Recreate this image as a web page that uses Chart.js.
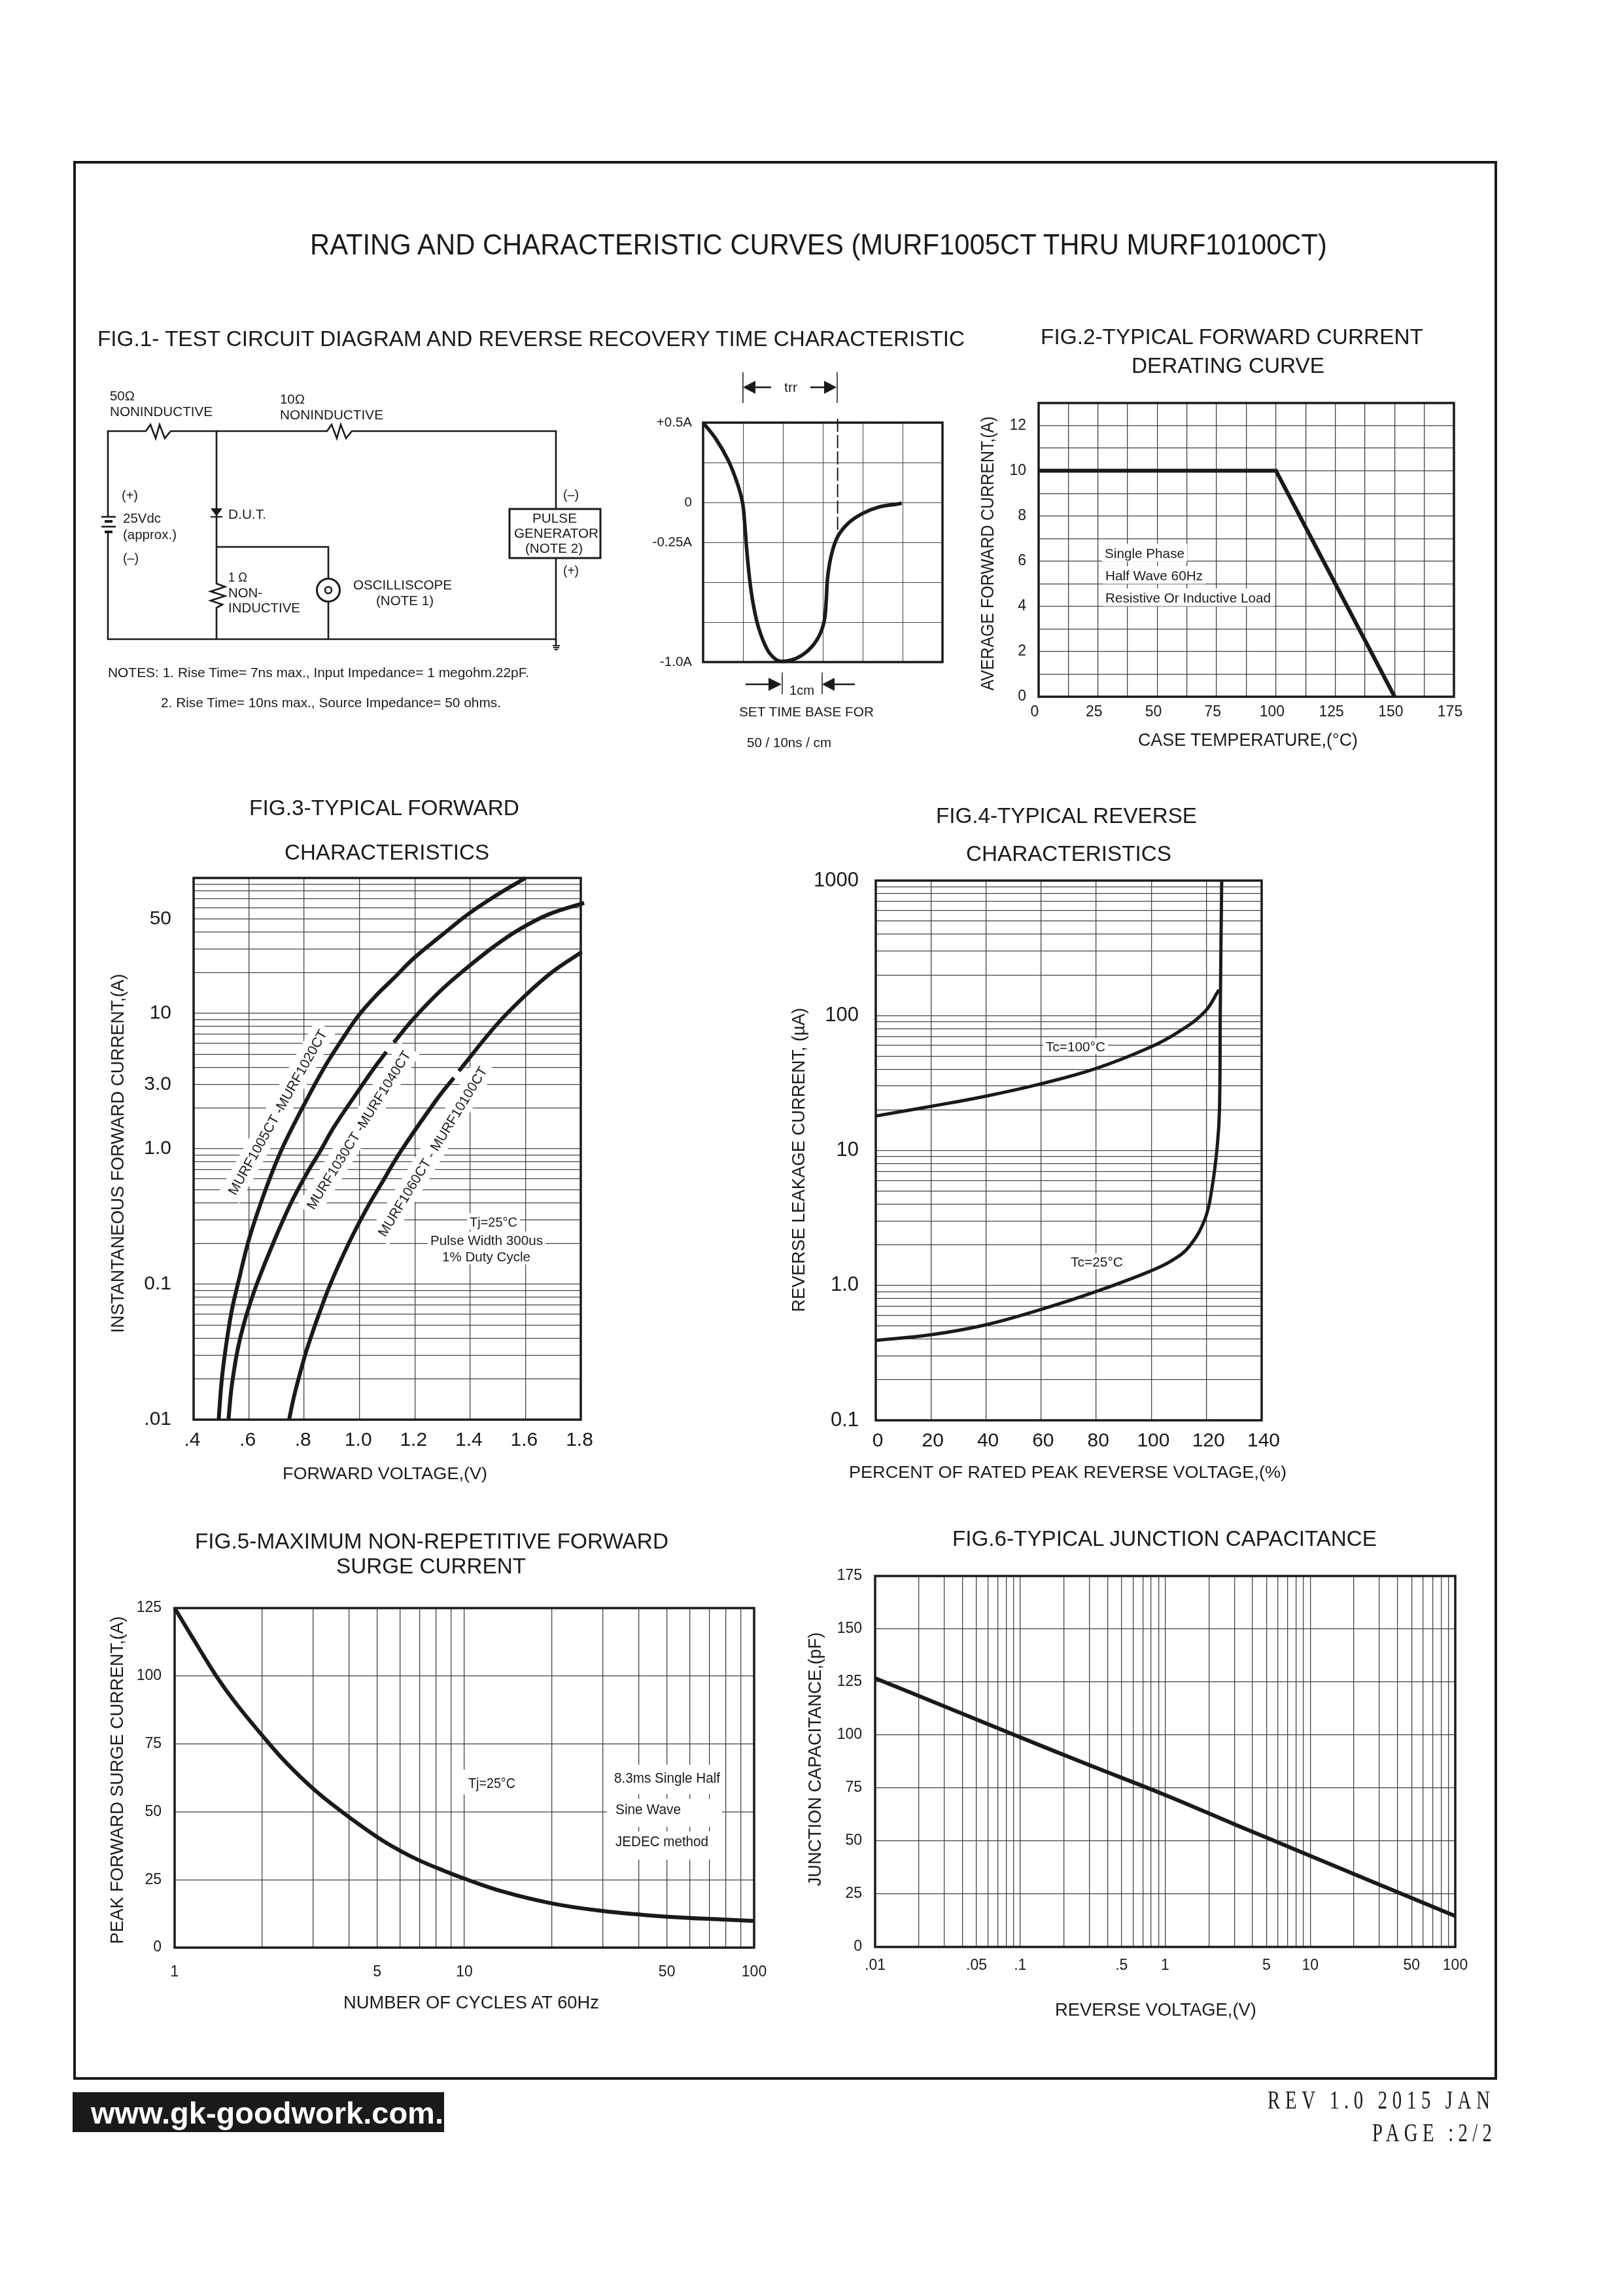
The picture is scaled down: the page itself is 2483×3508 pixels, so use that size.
<!DOCTYPE html>
<html>
<head>
<meta charset="utf-8">
<title>MURF1005CT curves</title>
<script src="https://cdn.jsdelivr.net/npm/chart.js@4/dist/chart.umd.min.js"></script>
<style>
html, body { margin: 0; padding: 0; background: #fff; }
#page { position: relative; width: 2483px; height: 3508px; overflow: hidden; }
#page canvas { position: absolute; }
#overlay { position: absolute; left: 0; top: 0; }
#overlay text { font-family: "Liberation Sans", Arial, sans-serif; fill: #1a1a1a; dominant-baseline: central; text-anchor: middle; }
</style>
</head>
<body>
<div id="page">
<svg id="overlay" width="2483" height="3508" xmlns="http://www.w3.org/2000/svg"></svg>
</div>
<script>
/*chart values*/

// fig.1 reverse recovery (x in divisions)
const fig1Time = [0, 0.328, 0.628, 0.847, 0.984, 1.038, 1.093, 1.175, 1.257, 1.393, 1.612, 1.831, 1.995, 2.322, 2.65, 2.896, 3.033, 3.087, 3.115, 3.197, 3.361, 3.634, 3.989, 4.399, 4.836, 4.98];
const fig1Current = [0.5, 0.395, 0.265, 0.128, 0.005, -0.117, -0.295, -0.5, -0.637, -0.787, -0.923, -0.985, -0.996, -0.978, -0.923, -0.842, -0.746, -0.609, -0.486, -0.35, -0.22, -0.131, -0.07, -0.029, -0.011, -0.005];
const fig1MarkerTime = [3.372, 3.372];
const fig1MarkerCurrent = [0.525, -0.2];
const fig1XTicks = [0, 1, 2, 3, 4, 5, 6];
const fig1YTicks = [-1, -0.75, -0.5, -0.25, 0, 0.25, 0.5];
const fig1YLabels = { '0.5': '+0.5A', '0': '0', '-0.25': '-0.25A', '-1': '-1.0A' };

// fig.2 derating
const fig2Temp = [0, 100, 150];
const fig2Amps = [10, 10, 0];
const fig2XTicks = [0, 12.5, 25, 37.5, 50, 62.5, 75, 87.5, 100, 112.5, 125, 137.5, 150, 162.5, 175];
const fig2YTicks = [0, 1, 2, 3, 4, 5, 6, 7, 8, 9, 10, 11, 12, 13];
const fig2XLabels = { 0: '0', 25: '25', 50: '50', 75: '75', 100: '100', 125: '125', 150: '150', 175: '175' };
const fig2YLabels = { 0: '0', 2: '2', 4: '4', 6: '6', 8: '8', 10: '10', 12: '12' };

// fig.3 forward characteristics, the nulls are the small breaks beside the part numbers
const fig3VoltsA = [0.4906, 0.5009, 0.5119, 0.5245, 0.5403, 0.5616, 0.601, 0.6562, 0.7153, 0.7937, 0.8706, 0.943, 0.9973, 1.0606, 1.124, 1.196, 1.296, 1.395, 1.495, 1.6];
const fig3AmpsA = [0.01, 0.0188, 0.0293, 0.0441, 0.0675, 0.1033, 0.2173, 0.473, 0.957, 2.01, 3.92, 6.7, 9.7, 13.6, 18.2, 25.5, 37.6, 54.5, 74.6, 100];
const fig3VoltsB = [0.5261, 0.5356, 0.5466, 0.5608, 0.5797, 0.6034, 0.6325, 0.6877, 0.7508, 0.8099, 0.8572, 0.9068, 0.9882, 1.0516, 1.097, 1.11, 1.124, 1.196, 1.296, 1.386, 1.486, 1.576, 1.685, 1.812];
const fig3AmpsB = [0.01, 0.0162, 0.0234, 0.034, 0.0492, 0.0713, 0.1054, 0.201, 0.393, 0.661, 0.957, 1.44, 2.55, 3.92, 5.2, null, 6.1, 9.18, 14.9, 21.5, 31.2, 41.5, 54, 65.5];
const fig3VoltsC = [0.7453, 0.761, 0.78, 0.8052, 0.8225, 0.8493, 0.895, 0.9612, 1.0227, 1.0779, 1.1489, 1.278, 1.341, 1.35, 1.359, 1.495, 1.595, 1.694, 1.803];
const fig3AmpsC = [0.01, 0.01422, 0.0202, 0.031, 0.0397, 0.0571, 0.1007, 0.201, 0.352, 0.548, 0.957, 2.3, 3.35, null, 3.75, 8.22, 13.3, 20, 28.4];
const fig3XTicks = [0.4, 0.6, 0.8, 1, 1.2, 1.4, 1.6, 1.8];
const fig3XLabels = { '0.4': '.4', '0.6': '.6', '0.8': '.8', '1': '1.0', '1.2': '1.2', '1.4': '1.4', '1.6': '1.6', '1.8': '1.8' };
const fig3YTicks = [0.01, 0.02, 0.03, 0.04, 0.05, 0.06, 0.07, 0.08, 0.09, 0.1, 0.2, 0.3, 0.4, 0.5, 0.6, 0.7, 0.8, 0.9, 1, 2, 3, 4, 5, 6, 7, 8, 9, 10, 20, 30, 40, 50, 60, 70, 80, 90, 100];
const fig3YLabels = { '0.01': '.01', '0.1': '0.1', '1': '1.0', '3': '3.0', '10': '10', '50': '50' };

// fig.4 reverse characteristics
const fig4Pct100 = [0, 19.9, 39.7, 59.7, 79.6, 99.4, 110, 119.4, 124.5];
const fig4Leak100 = [18, 21.2, 25.2, 31.1, 40.3, 58, 76, 107, 155];
const fig4Pct25 = [0, 19.9, 39.7, 59.7, 79.6, 99.4, 107.5, 113.6, 119.4, 122, 123.9, 124.7, 125, 125.5];
const fig4Leak25 = [0.391, 0.43, 0.509, 0.661, 0.895, 1.27, 1.53, 1.93, 3.09, 5.3, 10.8, 20.2, 113, 1000];
const fig4XTicks = [0, 20, 40, 60, 80, 100, 120, 140];
const fig4YTicks = [0.1, 0.2, 0.3, 0.4, 0.5, 0.6, 0.7, 0.8, 0.9, 1, 2, 3, 4, 5, 6, 7, 8, 9, 10, 20, 30, 40, 50, 60, 70, 80, 90, 100, 200, 300, 400, 500, 600, 700, 800, 900, 1000];
const fig4YLabels = { '0.1': '0.1', '1': '1.0', '10': '10', '100': '100', '1000': '1000' };

// fig.5 surge current
const fig5Cycles = [1, 1.147, 1.392, 1.62, 2.01, 2.415, 3.05, 3.79, 5.02, 5.97, 7.02, 8.55, 10, 13.6, 20, 30, 50, 80, 100];
const fig5Amps = [125, 114.5, 100, 90.2, 78, 68.3, 57.9, 49.9, 40.6, 35.8, 32, 28.2, 25.4, 20.6, 16.3, 13.5, 11.4, 10.3, 9.8];
const fig5XTicks = [1, 2, 3, 4, 5, 6, 7, 8, 9, 10, 20, 30, 40, 50, 60, 70, 80, 90, 100];
const fig5XLabels = { 1: '1', 5: '5', 10: '10', 50: '50', 100: '100' };
const fig5YTicks = [0, 25, 50, 75, 100, 125];

// fig.6 junction capacitance
const fig6Volts = [0.01, 0.0306, 0.1, 0.3, 1, 3, 10, 30, 100];
const fig6Cap = [126.8, 113.3, 98.9, 85.8, 71.7, 57.9, 43, 29.4, 14.6];
const fig6XTicks = [0.01, 0.02, 0.03, 0.04, 0.05, 0.06, 0.07, 0.08, 0.09, 0.1, 0.2, 0.3, 0.4, 0.5, 0.6, 0.7, 0.8, 0.9, 1, 2, 3, 4, 5, 6, 7, 8, 9, 10, 20, 30, 40, 50, 60, 70, 80, 90, 100];
const fig6XLabels = { '0.01': '.01', '0.05': '.05', '0.1': '.1', '0.5': '.5', '1': '1', '5': '5', '10': '10', '50': '50', '100': '100' };
const fig6YTicks = [0, 25, 50, 75, 100, 125, 150, 175];

/*helpers*/

const INK = '#1a1a1a';
const GRID = '#444';
const MARGIN = 110;
const page = document.getElementById('page');
const overlay = document.getElementById('overlay');
const NS = 'http://www.w3.org/2000/svg';

function points(xs, ys) {
    return xs.map(function(x, i) { return { x: x, y: ys[i] }; });
}

function curve(xs, ys, width) {
    return {
        data: points(xs, ys),
        borderColor: INK,
        borderWidth: width,
        pointRadius: 0,
        tension: 0.4,
        borderCapStyle: 'butt',
        clip: false,
    };
}

// same, with straight pieces between the points
function straight(xs, ys, width) {
    return Object.assign(curve(xs, ys, width), { tension: 0 });
}

function axisOptions(a, horizontal) {
    return {
        type: a.type || 'linear',
        min: a.min,
        max: a.max,
        border: { display: false },
        grid: { color: GRID, lineWidth: a.gridWidth || 1.3, drawTicks: false },
        ticks: {
            autoSkip: false,
            maxRotation: 0,
            minRotation: 0,
            color: INK,
            padding: a.pad,
            labelOffset: a.offset || 0,
            font: { family: '"Liberation Sans", Arial, sans-serif', size: a.size },
            callback: function(value) {
                if (!a.labels) return String(value);
                const text = a.labels[String(value)];
                return text === undefined ? '' : text;
            },
        },
        afterBuildTicks: function(scale) {
            scale.ticks = a.ticks.map(function(v) { return { value: v }; });
        },
        afterFit: function(scale) {
            // keep the plot box where the page wants it
            if (horizontal) scale.height = MARGIN; else scale.width = MARGIN;
            scale.paddingLeft = 0; scale.paddingRight = 0;
            scale.paddingTop = 0; scale.paddingBottom = 0;
        },
    };
}

function addChart(box, datasets, xAxis, yAxis, masks, frameWidth) {
    const canvas = document.createElement('canvas');
    const left = box.l - MARGIN, top = box.t - MARGIN;
    canvas.width = box.r - box.l + MARGIN * 2;
    canvas.height = box.b - box.t + MARGIN * 2;
    canvas.style.left = left + 'px';
    canvas.style.top = top + 'px';
    page.insertBefore(canvas, overlay);

    const paper = {
        id: 'paper',
        // white patches behind the notes, the grid stops around them
        beforeDatasetsDraw: function(chart) {
            const ctx = chart.ctx;
            (masks || []).forEach(function(m) {
                ctx.save();
                ctx.translate(m.cx - left, m.cy - top);
                ctx.rotate(-(m.angle || 0) * Math.PI / 180);
                ctx.fillStyle = '#fff';
                ctx.fillRect(-m.w / 2, -m.h / 2, m.w, m.h);
                ctx.restore();
            });
        },
        afterDatasetsDraw: function(chart) {
            const a = chart.chartArea, ctx = chart.ctx;
            ctx.save();
            ctx.strokeStyle = INK;
            ctx.lineWidth = frameWidth || 3.5;
            ctx.strokeRect(a.left, a.top, a.right - a.left, a.bottom - a.top);
            ctx.restore();
        },
    };

    return new Chart(canvas.getContext('2d'), {
        type: 'line',
        data: { datasets: datasets },
        options: {
            responsive: false,
            animation: false,
            events: [],
            devicePixelRatio: 1,
            layout: { padding: { left: 0, top: MARGIN, right: MARGIN, bottom: 0 } },
            plugins: { legend: { display: false }, title: { display: false }, tooltip: { enabled: false } },
            scales: { x: axisOptions(xAxis, true), y: axisOptions(yAxis, false) },
        },
        plugins: [paper],
    });
}

function svg(tag, attrs) {
    const el = document.createElementNS(NS, tag);
    for (const k in attrs) el.setAttribute(k, attrs[k]);
    overlay.appendChild(el);
    return el;
}

// text squeezed to the width it has in the reference
function text(str, x0, x1, y, size, weight, fill) {
    const el = svg('text', { x: (x0 + x1) / 2, y: y, 'font-size': size, textLength: x1 - x0, lengthAdjust: 'spacingAndGlyphs' });
    if (weight) el.setAttribute('font-weight', weight);
    if (fill) el.style.fill = fill;
    el.textContent = str;
    return el;
}

function turned(str, cx, cy, length, size, angle) {
    const el = svg('text', { transform: 'translate(' + cx + ' ' + cy + ') rotate(' + (-angle) + ')', 'font-size': size, textLength: length, lengthAdjust: 'spacingAndGlyphs' });
    el.textContent = str;
    return el;
}

// tall narrow serif of the revision lines
function serif(str, x0, x1, y, size) {
    const squeeze = 0.72;
    const el = svg('text', { transform: 'translate(' + (x0 + x1) / 2 + ' ' + y + ') scale(' + squeeze + ' 1)', 'font-size': size, textLength: (x1 - x0) / squeeze, lengthAdjust: 'spacing' });
    el.style.fontFamily = '"Liberation Serif", serif';
    el.textContent = str;
    return el;
}

function wire(d, width) {
    svg('path', { d: d, fill: 'none', stroke: INK, 'stroke-width': width || 2.6 });
}

function solid(d) {
    svg('path', { d: d, fill: INK, stroke: 'none' });
}

function note(list, x0, x1, y, h) {
    list.push({ cx: (x0 + x1) / 2, cy: y, w: x1 - x0 + 8, h: h });
}

/*page frame and headings*/

svg('rect', { x: 114, y: 248, width: 2173, height: 2929, fill: 'none', stroke: INK, 'stroke-width': 4 });
text('RATING AND CHARACTERISTIC CURVES (MURF1005CT THRU MURF10100CT)', 474, 2029, 373, 44);
text('FIG.1- TEST CIRCUIT DIAGRAM AND REVERSE RECOVERY TIME CHARACTERISTIC', 149, 1475, 517, 33);
text('FIG.2-TYPICAL FORWARD CURRENT', 1591, 2176, 514, 33);
text('DERATING CURVE', 1730, 2025, 558, 33);
text('FIG.3-TYPICAL FORWARD', 381, 794, 1234, 33);
text('CHARACTERISTICS', 435, 748, 1302, 33);
text('FIG.4-TYPICAL REVERSE', 1431, 1830, 1246, 33);
text('CHARACTERISTICS', 1477, 1791, 1304, 33);
text('FIG.5-MAXIMUM NON-REPETITIVE FORWARD', 298, 1022, 2355, 33);
text('SURGE CURRENT', 514, 804, 2393, 33);
text('FIG.6-TYPICAL JUNCTION CAPACITANCE', 1456, 2105, 2351, 33);

/*fig.1 circuit*/

wire('M165 790 V659 H223 L230 649 L238 670 L244 649 L252 670 L261 659 H500 L507 649 L515 670 L521 649 L529 670 L538 659 H850 V778');
wire('M850 853 V977 H165 V813');
wire('M155 790 H177'); wire('M160 797 H172', 4); wire('M155 805 H177'); wire('M160 813 H172', 4);
wire('M331 659 V892 L344 897 L322 904 L344 911 L322 918 L340 924 L331 929 V977');
solid('M322 777 H340 L331 789 Z');
wire('M322 790 H340', 2);
wire('M331 836 H502 V885');
wire('M502 920 V977');
svg('circle', { cx: 502, cy: 902, r: 17.5, fill: '#fff', stroke: INK, 'stroke-width': 3 });
svg('circle', { cx: 502, cy: 902, r: 5, fill: 'none', stroke: INK, 'stroke-width': 2.6 });
svg('rect', { x: 779, y: 778, width: 139, height: 75, fill: '#fff', stroke: INK, 'stroke-width': 3 });
wire('M850 977 V987');
wire('M845 987 H856', 2); wire('M846 990 H855', 2); wire('M848 993 H853', 2);

text('50Ω', 168, 206, 605, 20);
text('NONINDUCTIVE', 168, 325, 628, 21);
text('10Ω', 428, 466, 610, 20);
text('NONINDUCTIVE', 428, 586, 633, 21);
text('(+)', 186, 211, 757, 20);
text('25Vdc', 188, 246, 791, 21);
text('(approx.)', 188, 270, 816, 21);
text('(–)', 188, 212, 853, 20);
text('D.U.T.', 349, 407, 785, 21);
text('1 Ω', 349, 378, 882, 20);
text('NON-', 349, 401, 905, 21);
text('INDUCTIVE', 349, 459, 928, 21);
text('OSCILLISCOPE', 540, 691, 893, 21);
text('(NOTE 1)', 575, 663, 917, 21);
text('(–)', 861, 885, 756, 20);
text('PULSE', 814, 882, 791, 21);
text('GENERATOR', 786, 915, 814, 21);
text('(NOTE 2)', 803, 891, 837, 21);
text('(+)', 861, 885, 872, 20);
text('NOTES: 1. Rise Time= 7ns max., Input Impedance= 1 megohm.22pF.', 165, 809, 1027, 21);
text('2. Rise Time= 10ns max., Source Impedance= 50 ohms.', 246, 766, 1073, 21);

/*fig.1 scope trace annotations*/

wire('M1136 569 V616', 1.5); wire('M1280 569 V616', 1.5);
wire('M1179 592 H1150'); solid('M1136 592 L1155 582 V602 Z');
wire('M1239 592 H1265'); solid('M1279 592 L1260 582 V602 Z');
text('trr', 1199, 1219, 592, 20);
wire('M1196 1028 V1061', 1.5); wire('M1257 1028 V1061', 1.5);
wire('M1140 1046 H1180'); solid('M1195 1046 L1175 1036 V1056 Z');
wire('M1307 1046 H1272'); solid('M1257 1046 L1276 1036 V1056 Z');
text('1cm', 1207, 1245, 1055, 20);
text('SET TIME BASE FOR', 1130, 1336, 1088, 20);
text('50 / 10ns / cm', 1142, 1271, 1135, 20);

/*axis titles*/

turned('AVERAGE FORWARD CURRENT,(A)', 1510, 846, 419, 27, 90);
text('CASE TEMPERATURE,(°C)', 1740, 2076, 1130, 28);
turned('INSTANTANEOUS FORWARD CURRENT,(A)', 180, 1763, 549, 27, 90);
text('FORWARD VOLTAGE,(V)', 432, 745, 2252, 26);
turned('REVERSE LEAKAGE CURRENT, (µA)', 1221, 1773, 465, 27, 90);
text('PERCENT OF RATED PEAK REVERSE VOLTAGE,(%)', 1298, 1967, 2250, 26);
turned('PEAK FORWARD SURGE CURRENT,(A)', 179, 2721, 501, 27, 90);
text('NUMBER OF CYCLES AT 60Hz', 525, 916, 3061, 27);
turned('JUNCTION CAPACITANCE,(pF)', 1246, 2689, 388, 27, 90);
text('REVERSE VOLTAGE,(V)', 1613, 1921, 3072, 27);

/*notes inside the plots, with the patches that go behind them*/

const fig2Masks = [], fig3Masks = [], fig4Masks = [], fig5Masks = [];

text('Single Phase', 1689, 1811, 845, 21); note(fig2Masks, 1689, 1811, 845, 27);
text('Half Wave 60Hz', 1690, 1839, 879, 21); note(fig2Masks, 1690, 1839, 879, 27);
text('Resistive Or Inductive Load', 1690, 1943, 913, 21); note(fig2Masks, 1690, 1943, 913, 27);

turned('MURF1005CT -MURF1020CT', 424, 1700, 286, 21, 60.6);
turned('MURF1030CT -MURF1040CT', 548, 1727, 281, 21, 58);
turned('MURF1060CT - MURF10100CT', 661, 1760, 300, 21, 58.5);
fig3Masks.push({ cx: 424, cy: 1700, w: 300, h: 36, angle: 60.6 });
fig3Masks.push({ cx: 548, cy: 1727, w: 295, h: 36, angle: 58 });
fig3Masks.push({ cx: 661, cy: 1760, w: 314, h: 36, angle: 58.5 });
text('Tj=25°C', 718, 791, 1867, 21); note(fig3Masks, 718, 791, 1867, 25);
text('Pulse Width 300us', 658, 830, 1895, 21); note(fig3Masks, 658, 830, 1895, 25);
text('1% Duty Cycle', 676, 811, 1920, 21); note(fig3Masks, 676, 811, 1920, 25);

text('Tc=100°C', 1599, 1690, 1599, 21); note(fig4Masks, 1599, 1690, 1599, 24);
text('Tc=25°C', 1637, 1717, 1928, 21); note(fig4Masks, 1637, 1717, 1928, 24);

text('Tj=25°C', 716, 788, 2725, 22);
fig5Masks.push({ cx: 749, cy: 2724, w: 82, h: 38 });
text('8.3ms Single Half', 939, 1101, 2717, 22);
fig5Masks.push({ cx: 1016, cy: 2720, w: 176, h: 45 });
text('Sine Wave', 941, 1041, 2765, 22);
fig5Masks.push({ cx: 1016, cy: 2771, w: 176, h: 43 });
text('JEDEC method', 941, 1083, 2814, 22);
fig5Masks.push({ cx: 1016, cy: 2821, w: 176, h: 43 });

/*footer*/

svg('rect', { x: 111, y: 3198, width: 568, height: 61, fill: '#1a1a1a' });
text('www.gk-goodwork.com.', 139, 678, 3230, 46, 'bold', '#fff');
serif('REV 1.0 2015 JAN', 1938, 2278, 3210, 40);
serif('PAGE :2/2', 2098, 2281, 3260, 40);

/*charts*/

addChart({ l: 1075, t: 646, r: 1441, b: 1012 },
    [
        Object.assign(straight(fig1MarkerTime, fig1MarkerCurrent, 2), { borderDash: [20, 5] }),
        curve(fig1Time, fig1Current, 5.5),
    ],
    { min: 0, max: 6, ticks: fig1XTicks, labels: {}, pad: 6, size: 20, gridWidth: 1 },
    { min: -1, max: 0.5, ticks: fig1YTicks, labels: fig1YLabels, pad: 17, size: 20.5, gridWidth: 1 });

addChart({ l: 1588, t: 616, r: 2223, b: 1065 },
    [straight(fig2Temp, fig2Amps, 6)],
    { min: 0, max: 175, ticks: fig2XTicks, labels: fig2XLabels, pad: 10, size: 23, offset: -6 },
    { min: 0, max: 13, ticks: fig2YTicks, labels: fig2YLabels, pad: 19, size: 23 },
    fig2Masks);

addChart({ l: 296, t: 1342, r: 888, b: 2170 },
    [curve(fig3VoltsA, fig3AmpsA, 6), curve(fig3VoltsB, fig3AmpsB, 6), curve(fig3VoltsC, fig3AmpsC, 6)],
    { min: 0.4, max: 1.8, ticks: fig3XTicks, labels: fig3XLabels, pad: 14, size: 30, offset: -2 },
    { type: 'logarithmic', min: 0.01, max: 100, ticks: fig3YTicks, labels: fig3YLabels, pad: 34, size: 30 },
    fig3Masks);

addChart({ l: 1339, t: 1346, r: 1929, b: 2171 },
    [curve(fig4Pct100, fig4Leak100, 5), curve(fig4Pct25, fig4Leak25, 5)],
    { min: 0, max: 140, ticks: fig4XTicks, pad: 14, size: 30, offset: 3 },
    { type: 'logarithmic', min: 0.1, max: 1000, ticks: fig4YTicks, labels: fig4YLabels, pad: 26, size: 31 },
    fig4Masks);

addChart({ l: 267, t: 2458, r: 1153, b: 2977 },
    [curve(fig5Cycles, fig5Amps, 6)],
    { type: 'logarithmic', min: 1, max: 100, ticks: fig5XTicks, labels: fig5XLabels, pad: 24, size: 23 },
    { min: 0, max: 125, ticks: fig5YTicks, pad: 20, size: 23 },
    fig5Masks);

addChart({ l: 1338, t: 2409, r: 2225, b: 2976 },
    [curve(fig6Volts, fig6Cap, 6)],
    { type: 'logarithmic', min: 0.01, max: 100, ticks: fig6XTicks, labels: fig6XLabels, pad: 15, size: 23 },
    { min: 0, max: 175, ticks: fig6YTicks, pad: 20, size: 23 });
</script>
</body>
</html>
